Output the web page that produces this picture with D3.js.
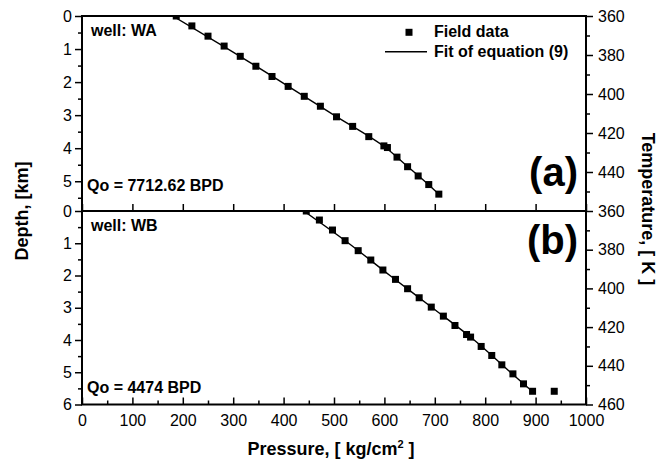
<!DOCTYPE html>
<html>
<head>
<meta charset="utf-8">
<script src="https://cdn.jsdelivr.net/npm/d3@7"></script>
<style>
  body { margin: 0; background: #fff; }
  svg text { font-family: "Liberation Sans", Arial, sans-serif; fill: #000; }
</style>
</head>
<body>
<div id="chart"></div>
<script>
// Well WA field data (pressure kg/cm2, depth km)
const waPressure = [187, 218, 250, 282, 314, 345, 377, 409, 441, 473, 505, 537, 569, 599, 606, 625, 646, 667, 688, 708];
const waDepth = [0.0, 0.30, 0.61, 0.91, 1.22, 1.52, 1.83, 2.13, 2.43, 2.73, 3.05, 3.34, 3.65, 3.93, 3.98, 4.27, 4.56, 4.84, 5.10, 5.39];
// Fit of equation (9), well WA
const waFitPressure = [180, 290, 396, 500, 604, 642, 680, 712];
const waFitDepth = [0, 1, 2, 3, 4, 4.5, 5, 5.45];

// Well WB field data
const wbPressure = [445, 471, 497, 522, 548, 573, 597, 622, 646, 669, 693, 717, 740, 763, 771, 792, 813, 833, 855, 876, 894, 937];
const wbDepth = [0.0, 0.28, 0.59, 0.92, 1.23, 1.52, 1.83, 2.12, 2.41, 2.69, 2.98, 3.26, 3.55, 3.83, 3.91, 4.20, 4.48, 4.77, 5.05, 5.36, 5.59, 5.59];
// Fit of equation (9), well WB
const wbFitPressure = [440, 529, 611, 695, 778, 850, 893];
const wbFitDepth = [0, 1, 2, 3, 4, 5, 5.59];

// Tick values
const pressureTicks = [0, 100, 200, 300, 400, 500, 600, 700, 800, 900, 1000];
const pressureMinor = [50, 150, 250, 350, 450, 550, 650, 750, 850, 950];
const depthTicksA = [0, 1, 2, 3, 4, 5];
const depthTicksB = [0, 1, 2, 3, 4, 5, 6];
const tempTicksA = [360, 380, 400, 420, 440];
const tempTicksB = [360, 380, 400, 420, 440, 460];

const W = 670, H = 464;
const left = 82, right = 586;
const topA = 16, mid = 211, bottomB = 404.5;
const fmt = d3.format("d");

const svg = d3.select("#chart").append("svg")
    .attr("width", W)
    .attr("height", H);

const x = d3.scaleLinear().domain([0, 1000]).range([left, right]);

const panels = [
    { id: "a", y0: topA, y1: mid, depthMax: 5.9, P: waPressure, D: waDepth, fP: waFitPressure, fD: waFitDepth,
      depthTicks: depthTicksA, tempTicks: tempTicksA, well: "well: WA", qo: "Qo = 7712.62 BPD",
      wellY: 36, qoY: 190.5, tagY: 186 },
    { id: "b", y0: mid, y1: bottomB, depthMax: 6, P: wbPressure, D: wbDepth, fP: wbFitPressure, fD: wbFitDepth,
      depthTicks: depthTicksB, tempTicks: tempTicksB, well: "well: WB", qo: "Qo = 4474 BPD",
      wellY: 231, qoY: 393, tagY: 254 }
];

const defs = svg.append("defs");

panels.forEach(p => {
    const y = d3.scaleLinear().domain([0, p.depthMax]).range([p.y0, p.y1]);
    const yT = d3.scaleLinear().domain([360, 460]).range([p.y0, p.y1]);

    defs.append("clipPath").attr("id", "clip-" + p.id)
        .append("rect")
        .attr("x", left).attr("y", p.y0)
        .attr("width", right - left).attr("height", p.y1 - p.y0);

    const g = svg.append("g");

    // Left axis (depth)
    const depthMinor = d3.range(0.5, p.depthMax, 1);
    g.append("g")
        .attr("transform", `translate(${left},0)`)
        .call(d3.axisLeft(y).tickValues(depthMinor).tickSize(4).tickSizeOuter(0).tickFormat(""))
        .call(a => a.select(".domain").remove())
        .selectAll("line").attr("stroke-width", 1.5);
    g.append("g")
        .attr("transform", `translate(${left},0)`)
        .call(d3.axisLeft(y).tickValues(p.depthTicks).tickFormat(fmt).tickSize(7).tickPadding(3).tickSizeOuter(0))
        .call(a => {
            a.select(".domain").remove();
            a.selectAll("line").attr("stroke-width", 1.5);
            a.selectAll("text").attr("font-size", 16).attr("font-family", null);
        });

    // Right axis (temperature)
    const tempMinor = d3.range(370, 460, 20);
    g.append("g")
        .attr("transform", `translate(${right},0)`)
        .call(d3.axisRight(yT).tickValues(tempMinor).tickSize(4).tickSizeOuter(0).tickFormat(""))
        .call(a => a.select(".domain").remove())
        .selectAll("line").attr("stroke-width", 1.5);
    g.append("g")
        .attr("transform", `translate(${right},0)`)
        .call(d3.axisRight(yT).tickValues(p.tempTicks).tickFormat(fmt).tickSize(7).tickPadding(5).tickSizeOuter(0))
        .call(a => {
            a.select(".domain").remove();
            a.selectAll("line").attr("stroke-width", 1.5);
            a.selectAll("text").attr("font-size", 16).attr("font-family", null);
        });

    // Bottom axis of each panel, ticks pointing inward
    g.append("g").attr("transform", `translate(0,${p.y1})`)
        .call(d3.axisTop(x).tickValues(pressureTicks).tickSize(7).tickSizeOuter(0).tickFormat(""))
        .call(a => a.select(".domain").remove())
        .selectAll("line").attr("stroke-width", 1.5);
    if (p.id === "b") {
        g.append("g").attr("transform", `translate(0,${p.y1})`)
            .call(d3.axisTop(x).tickValues(pressureMinor).tickSize(4).tickSizeOuter(0).tickFormat(""))
            .call(a => a.select(".domain").remove())
            .selectAll("line").attr("stroke-width", 1.5);
        g.append("g").attr("transform", `translate(0,${p.y1})`)
            .call(d3.axisBottom(x).tickValues(pressureTicks).tickFormat(fmt).tickSize(0).tickPadding(10))
            .call(a => {
                a.select(".domain").remove();
                a.selectAll("text").attr("font-size", 16).attr("font-family", null);
            });
    }

    // Frame lines
    g.append("line").attr("x1", left).attr("x2", left).attr("y1", p.y0).attr("y2", p.y1)
        .attr("stroke", "#000").attr("stroke-width", 2);
    g.append("line").attr("x1", right).attr("x2", right).attr("y1", p.y0).attr("y2", p.y1)
        .attr("stroke", "#000").attr("stroke-width", 2);
    g.append("line").attr("x1", left - 1).attr("x2", right + 1).attr("y1", p.y0).attr("y2", p.y0)
        .attr("stroke", "#000").attr("stroke-width", 2);
    g.append("line").attr("x1", left - 1).attr("x2", right + 1).attr("y1", p.y1).attr("y2", p.y1)
        .attr("stroke", "#000").attr("stroke-width", 2);

    const plot = g.append("g").attr("clip-path", `url(#clip-${p.id})`);

    // Fit line
    const fit = p.fP.map((v, i) => [v, p.fD[i]]);
    plot.append("path")
        .datum(fit)
        .attr("fill", "none")
        .attr("stroke", "#000")
        .attr("stroke-width", 1.4)
        .attr("d", d3.line().x(d => x(d[0])).y(d => y(d[1])).curve(d3.curveMonotoneY));

    // Field data squares
    const pts = p.P.map((v, i) => [v, p.D[i]]);
    plot.selectAll("rect.pt").data(pts).join("rect")
        .attr("class", "pt")
        .attr("x", d => x(d[0]) - 3.5)
        .attr("y", d => y(d[1]) - 3.5)
        .attr("width", 7).attr("height", 7)
        .attr("fill", "#000");

    // Annotations
    g.append("text").attr("x", 91).attr("y", p.wellY)
        .attr("font-size", 16).attr("font-weight", "bold").text(p.well);
    g.append("text").attr("x", 87).attr("y", p.qoY)
        .attr("font-size", 16).attr("font-weight", "bold").text(p.qo);
    g.append("text").attr("x", 578).attr("y", p.tagY)
        .attr("text-anchor", "end")
        .attr("font-size", 40).attr("font-weight", "bold").text(`(${p.id})`);
});

// Legend
const legend = svg.append("g");
legend.append("rect").attr("x", 405.5).attr("y", 28.8).attr("width", 7).attr("height", 7).attr("fill", "#000");
legend.append("text").attr("x", 434).attr("y", 37)
    .attr("font-size", 16).attr("font-weight", "bold").text("Field data");
legend.append("line").attr("x1", 385).attr("x2", 427).attr("y1", 51.7).attr("y2", 51.7)
    .attr("stroke", "#000").attr("stroke-width", 1.4);
legend.append("text").attr("x", 434).attr("y", 57)
    .attr("font-size", 16).attr("font-weight", "bold").text("Fit of equation (9)");

// Axis titles
const xTitle = svg.append("text")
    .attr("x", 331).attr("y", 455)
    .attr("text-anchor", "middle")
    .attr("font-size", 18).attr("font-weight", "bold");
xTitle.append("tspan").text("Pressure, [ kg/cm");
xTitle.append("tspan").attr("font-size", 11).attr("dy", -7).text("2");
xTitle.append("tspan").attr("dy", 7).text(" ]");

svg.append("text")
    .attr("transform", "translate(28,211) rotate(-90)")
    .attr("text-anchor", "middle")
    .attr("font-size", 18).attr("font-weight", "bold")
    .text("Depth, [km]");

svg.append("text")
    .attr("transform", "translate(642,209) rotate(90)")
    .attr("text-anchor", "middle")
    .attr("font-size", 18).attr("font-weight", "bold")
    .text("Temperature, [ K ]");
</script>
</body>
</html>
